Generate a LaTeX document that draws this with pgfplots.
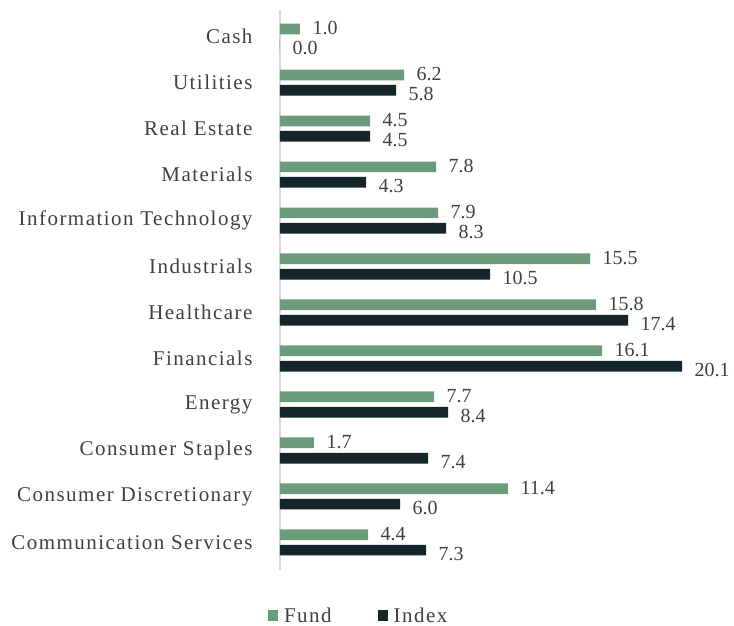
\documentclass[border=0pt]{standalone}
\usepackage{pgfplots}
\pgfplotsset{compat=1.18}
\usepackage{fontspec}
\setmainfont{Liberation Serif}
\newfontfamily\lblfont{Liberation Serif}[LetterSpace=7]
\definecolor{fundc}{HTML}{6A9B7A}
\definecolor{indexc}{HTML}{14262A}
\definecolor{txtc}{HTML}{404040}
\begin{document}
\begin{tikzpicture}
\useasboundingbox (0,0) rectangle (734pt,626pt);
\begin{axis}[
    at={(280pt,56pt)}, anchor=south west,
    scale only axis,
    width=440pt, height=560pt,
    xbar, bar width=10.7pt,
    xmin=0, xmax=22,
    ymin=-0.6, ymax=11.58,
    axis x line=none,
    axis y line=left,
    y axis line style={draw=black!15, line width=1.5pt, -},
    ytick={0,...,11},
    yticklabels={Communication Services, Consumer Discretionary, Consumer Staples, Energy, Financials, Healthcare, Industrials, Information Technology, Materials, Real Estate, Utilities, Cash},
    major tick length=0pt,
    yticklabel style={font=\lblfont\fontsize{21}{24}\selectfont, text=txtc, xshift=-24pt},
    nodes near coords,
    every node near coord/.append style={font=\fontsize{20}{24}\selectfont, text=txtc, anchor=west, xshift=9pt,
        /pgf/number format/fixed, /pgf/number format/precision=1, /pgf/number format/fixed zerofill, /pgf/number format/assume math mode=true},
    legend columns=-1,
    legend style={draw=none, at={(0.179,-0.082)}, anchor=center, font=\lblfont\fontsize{21}{24}\selectfont, text=txtc,
        /tikz/every even column/.append style={column sep=44pt},
        /tikz/every odd column/.append style={column sep=4pt}},
    legend image code/.code={\fill[#1] (0pt,-5pt) rectangle (10pt,6pt);},
]
% Fund
\addplot[fill=fundc, draw=none, bar shift=7.7pt, every node near coord/.append style={yshift=1pt}] coordinates {
    (4.4,0) (11.4,1) (1.7,2) (7.7,3) (16.1,4) (15.8,5) (15.5,6) (7.9,7) (7.8,8) (4.5,9) (6.2,10) (1.0,11)
};
% Index
\addplot[fill=indexc, draw=none, bar shift=-7.7pt, every node near coord/.append style={yshift=-4pt}] coordinates {
    (7.3,0) (6.0,1) (7.4,2) (8.4,3) (20.1,4) (17.4,5) (10.5,6) (8.3,7) (4.3,8) (4.5,9) (5.8,10) (0.0,11)
};
\legend{Fund, Index}
\end{axis}
\end{tikzpicture}
\end{document}
